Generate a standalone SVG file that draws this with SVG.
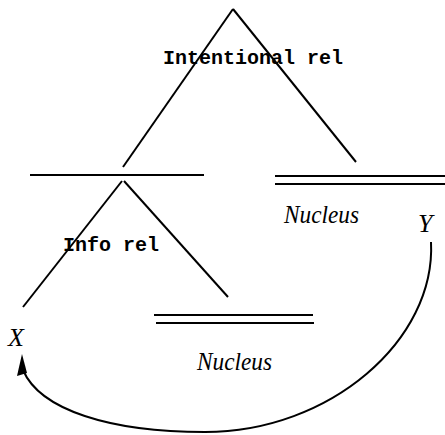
<svg xmlns="http://www.w3.org/2000/svg" width="445" height="435" viewBox="0 0 445 435">
<style>
.ln{stroke:#000;stroke-width:2;fill:none}
.mono{font-family:"Liberation Mono","DejaVu Sans Mono",monospace;font-weight:bold;font-size:20px;fill:#000}
.it{font-family:"Liberation Serif","DejaVu Serif",serif;font-style:italic;font-size:26px;fill:#000}
</style>
<rect width="445" height="435" fill="#fff"/>
<g id="connectors">
<line class="ln" x1="233" y1="9" x2="123" y2="167"/>
<line class="ln" x1="233" y1="9" x2="356" y2="162"/>
<line class="ln" x1="122" y1="181" x2="23" y2="307"/>
<line class="ln" x1="124" y1="181" x2="228" y2="297"/>
<path class="ln" d="M431,242 C436,340 330,432 205,432 C110,432 40,410 23,370"/>
<polygon points="22,354 17,376 27,373" fill="#000"/>
</g>
<g id="root">
<text class="mono" x="163" y="64">Intentional rel</text>
</g>
<g id="satellite">
<line class="ln" x1="30" y1="175" x2="204" y2="175"/>
<text class="mono" x="63" y="251">Info rel</text>
</g>
<g id="nucleus-right">
<line class="ln" x1="275" y1="176" x2="445" y2="176"/>
<line class="ln" x1="275" y1="184" x2="445" y2="184"/>
<text class="it" x="284" y="223" textLength="75" lengthAdjust="spacingAndGlyphs">Nucleus</text>
</g>
<g id="Y">
<text class="it" x="418" y="232">Y</text>
</g>
<g id="nucleus-bottom">
<line class="ln" x1="154" y1="315" x2="313" y2="315"/>
<line class="ln" x1="156" y1="323" x2="314" y2="323"/>
<text class="it" x="197" y="370" textLength="75" lengthAdjust="spacingAndGlyphs">Nucleus</text>
</g>
<g id="X">
<text class="it" x="8" y="346">X</text>
</g>
</svg>
